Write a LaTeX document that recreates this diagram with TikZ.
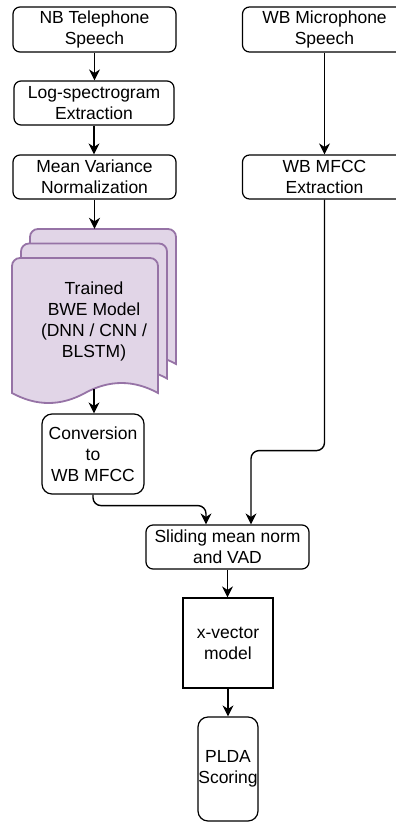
\documentclass[tikz,border=0pt]{standalone}
\usepackage{fontspec}
\setmainfont{Liberation Sans}
\usetikzlibrary{arrows.meta,calc}

\tikzset{
  box/.style={draw=black, line width=1.2pt, fill=white, rounded corners=7pt,
    inner sep=0pt, align=center, font=\fontsize{17.5}{21}\selectfont},
  sqbox/.style={box, sharp corners},
  flow/.style={draw=black, line width=1.4pt,
    -{Stealth[length=11pt,width=11pt,inset=3.5pt]}},
  docfill/.style={draw={rgb,255:red,150;green,115;blue,166}, line width=1.8pt,
    fill={rgb,255:red,225;green,213;blue,231}},
  doclabel/.style={align=center, inner sep=0pt, font=\fontsize{17.5}{21}\selectfont}
}

\begin{document}
\begin{tikzpicture}[x=1pt, y=-1pt]
\useasboundingbox (0,0) rectangle (396,823);
\clip (0,0) rectangle (396,823);

% left column
\node[box, minimum width=163pt, minimum height=45pt] (nb) at (94.5,29.5) {NB Telephone\\Speech};
\node[box, minimum width=160pt, minimum height=44pt] (log) at (94,103) {Log-spectrogram\\Extraction};
\node[box, minimum width=163pt, minimum height=44pt] (mvn) at (94.5,177) {Mean Variance\\Normalization};

% right column (runs past the right edge)
\node[box, minimum width=164pt, minimum height=45pt] (wbmic) at (324.5,29.5) {WB Microphone\\Speech};
\node[box, minimum width=164pt, minimum height=44pt] (wbmfcc) at (324.5,177) {WB MFCC\\Extraction};

% stacked document shape for the trained BWE models
\foreach \dx/\dy in {18/-29, 9/-14.5, 0/0} {
  \begin{scope}[shift={(\dx,\dy)}]
    \path[docfill] (12,393) -- (12,266)
      .. controls (12,261.6) and (15.6,258) .. (20,258) -- (150,258)
      .. controls (154.4,258) and (158,261.6) .. (158,266) -- (158,393)
      .. controls (133.67,379.67) and (109.33,379.67) .. (85,393)
      .. controls (60.67,406.33) and (36.33,406.33) .. (12,393) -- cycle;
  \end{scope}
}
\node[minimum width=164pt, minimum height=178pt, inner sep=0pt] (bwe) at (94,318) {};
\node[doclabel] (bwetext) at (94,321) {Trained\\BWE Model\\(DNN / CNN /\\BLSTM)};
\coordinate (bweout) at (94,389);

\node[box, rounded corners=10pt, minimum width=102pt, minimum height=80pt] (conv) at (93,454) {Conversion\\to\\WB MFCC};

% back end
\node[box, minimum width=163pt, minimum height=44pt] (slide) at (227.5,547) {Sliding mean norm\\and VAD};
\node[sqbox, minimum width=90pt, minimum height=90pt] (xvec) at (228,643) {x-vector\\model};
\node[box, rounded corners=10pt, minimum width=60pt, minimum height=104pt] (plda) at (228,769) {PLDA\\Scoring};

\coordinate (inL) at ($(slide.north)+(-21.5,0)$);
\coordinate (inR) at ($(slide.north)+(23.5,0)$);

% connectors
\draw[flow] (nb.south) -- (nb.south |- log.north);
\draw[flow] (log.south) -- (log.south |- mvn.north);
\draw[flow] (mvn.south) -- (mvn.south |- bwe.north);
\draw[flow] (bweout) -- (bweout |- conv.north);
\draw[flow] (wbmic.south) -- (wbmfcc.north);
\draw[flow, rounded corners=8pt] (conv.south) -- ++(0,11) -| (inL);
\draw[flow, rounded corners=8pt] (wbmfcc.south) -- ++(0,251) -| (inR);
\draw[flow] (slide.south) -- (slide.south |- xvec.north);
\draw[flow] (xvec.south) -- (plda.north);
\end{tikzpicture}
\end{document}
